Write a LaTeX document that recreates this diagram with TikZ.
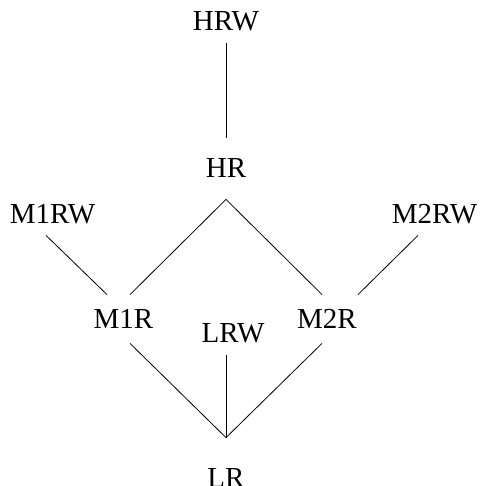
\documentclass[tikz,border=0pt]{standalone}
\usepackage{fontspec}
\setmainfont{Liberation Serif}
\begin{document}
\begin{tikzpicture}[x=1pt,y=-1pt,line width=0.8pt]
\tikzstyle{every node}=[font=\fontsize{29}{31}\selectfont,inner sep=0pt,text height=19pt,text depth=0pt]

\useasboundingbox (0,0) rectangle (480,486);

% levels
\node[minimum height=43pt] (hrw) at (226,21.5) {HRW};
\node[minimum height=61pt] (hr) at (226,168.5) {HR};
\node[minimum height=43pt] (m1rw) at (52.5,213.5) {M1RW};
\node[minimum height=43pt] (m2rw) at (434.5,213.5) {M2RW};
\node[minimum height=48pt] (m1r) at (123.5,319) {M1R};
\node[minimum height=48pt] (m2r) at (327,319) {M2R};
\node[minimum height=44pt] (lrw) at (233,333) {LRW};
\node[minimum height=79pt] (lr) at (226,477.5) {LR};

% edges
\draw (hrw.south) -- (hr.north);
\draw (hr.south) -- ([xshift=6.5pt]m1r.north);
\draw (hr.south) -- ([xshift=-5pt]m2r.north);
\draw ([xshift=-6.5pt]m1rw.south) -- ([xshift=-16.5pt]m1r.north);
\draw ([xshift=-16.5pt]m2rw.south) -- ([xshift=31pt]m2r.north);
\draw ([xshift=6.5pt]m1r.south) -- (lr.north);
\draw ([xshift=-5pt]m2r.south) -- (lr.north);
\draw ([xshift=-7pt]lrw.south) -- (lr.north);
\end{tikzpicture}
\end{document}
